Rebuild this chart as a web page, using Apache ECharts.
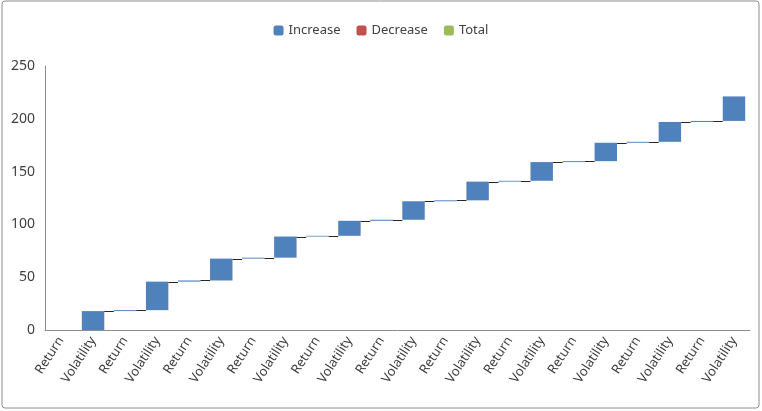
<!DOCTYPE html>
<html>
<head>
<meta charset="utf-8">
<script src="https://cdn.jsdelivr.net/npm/echarts@6/dist/echarts.min.js"></script>
<style>
  html, body { margin: 0; padding: 0; background: #fff; }
  #box { width: 762px; height: 411px; }
</style>
</head>
<body>
<div id="box"></div>
<script>
// step names, one Return and one Volatility per period
var categories = ['Return', 'Volatility', 'Return', 'Volatility', 'Return', 'Volatility',
    'Return', 'Volatility', 'Return', 'Volatility', 'Return', 'Volatility',
    'Return', 'Volatility', 'Return', 'Volatility', 'Return', 'Volatility',
    'Return', 'Volatility', 'Return', 'Volatility']

// increments
var returnSteps = [0, 0.9, 1.1, 0.9, 0.7, 1.0, 0.9, 0.8, 0.9, 0.9, 1.0]
var volatilitySteps = [17.9, 27, 20.7, 20, 14.2, 17.5, 17.7, 17.7, 17.4, 18.8, 23.2]

var yTicks = { min: 0, max: 250, interval: 50 }

// build waterfall: invisible base + visible increase
var steps = []
for (var p = 0; p < returnSteps.length; p++) {
    steps.push(returnSteps[p])
    steps.push(volatilitySteps[p])
}
var baseData = []
var increaseData = []
var levels = []
var running = 0
for (var i = 0; i < steps.length; i++) {
    baseData.push(running)
    increaseData.push(steps[i])
    running += steps[i]
    levels.push(running)
}
// connectors only once the total has left zero
var connectorData = []
for (var c = 0; c < levels.length - 1; c++) {
    if (levels[c] > 0) connectorData.push([c, levels[c]])
}

var box = document.getElementById('box')
var chart = echarts.init(box)

var font = 'Noto Sans'
var barRatio = 0.7

var option = {
    animation: false,
    textStyle: { fontFamily: font },
    graphic: [{
        type: 'rect',
        shape: { x: 2, y: 1, width: 757, height: 407, r: 3 },
        style: { fill: 'none', stroke: '#8c8c8c', lineWidth: 1 },
        silent: true
    }],
    legend: {
        top: 19,
        left: 'center',
        itemWidth: 10,
        itemHeight: 10,
        itemGap: 16,
        data: ['Increase', 'Decrease', 'Total'],
        textStyle: { fontFamily: font, fontSize: 13, color: '#404040' }
    },
    grid: { left: 45, right: 12, top: 66, bottom: 81, containLabel: false },
    xAxis: {
        type: 'category',
        data: categories,
        axisLine: { lineStyle: { color: '#8c8c8c' } },
        axisTick: { show: false },
        axisLabel: {
            interval: 0,
            rotate: 57,
            margin: 8,
            fontFamily: font,
            fontSize: 13,
            color: '#404040'
        }
    },
    yAxis: {
        type: 'value',
        min: yTicks.min,
        max: yTicks.max,
        interval: yTicks.interval,
        axisLine: { show: true, lineStyle: { color: '#8c8c8c' } },
        axisTick: { show: false },
        splitLine: { show: false },
        axisLabel: { fontFamily: font, fontSize: 14, color: '#404040', margin: 10 }
    },
    series: [{
        name: 'Base',
        type: 'bar',
        stack: 'wf',
        barWidth: (barRatio * 100) + '%',
        itemStyle: { color: 'transparent' },
        data: baseData
    }, {
        name: 'Increase',
        type: 'bar',
        stack: 'wf',
        itemStyle: { color: '#4f81bd' },
        data: increaseData
    }, {
        name: 'Decrease',
        type: 'bar',
        stack: 'wf',
        itemStyle: { color: '#c0504d' },
        data: []
    }, {
        name: 'Total',
        type: 'bar',
        stack: 'wf',
        itemStyle: { color: '#9bbb59' },
        data: []
    }, {
        name: 'Connector',
        type: 'custom',
        data: connectorData,
        z: 5,
        renderItem: function (params, api) {
            var x0 = api.value(0)
            var lvl = api.value(1)
            var p1 = api.coord([x0, lvl])
            var p2 = api.coord([x0 + 1, lvl])
            var half = api.size([1, 0])[0] * barRatio / 2
            var y = Math.round(p1[1]) + 0.5
            return {
                type: 'line',
                shape: { x1: p1[0] + half, y1: y, x2: p2[0] - half, y2: y },
                style: { stroke: '#262626', lineWidth: 1 }
            }
        }
    }]
}

chart.setOption(option)
</script>
</body>
</html>
